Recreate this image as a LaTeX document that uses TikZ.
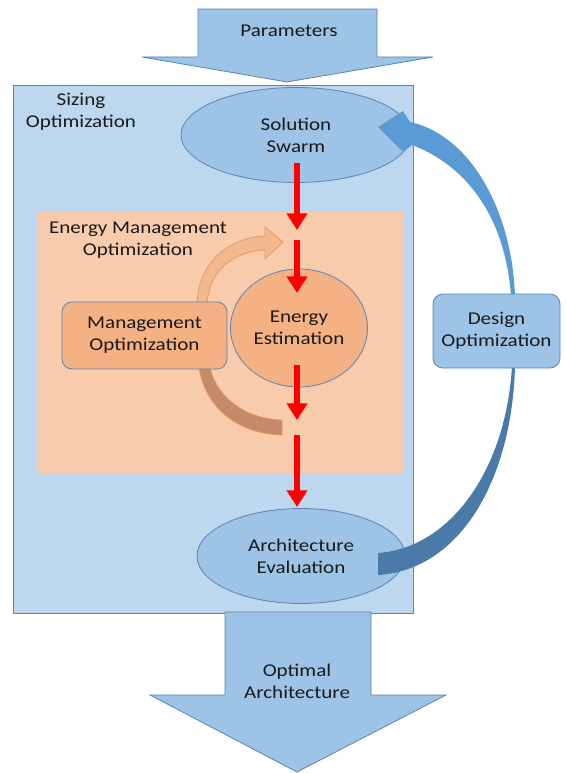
\documentclass[tikz,border=0pt]{standalone}
\usepackage{fontspec}
\setmainfont{Carlito}[FakeStretch=1.17]
\usetikzlibrary{arrows.meta,shapes.geometric}
\definecolor{sizebg}{HTML}{BDD7EE}
\definecolor{boxline}{HTML}{5B84B1}
\definecolor{bluefill}{HTML}{9DC3E6}
\definecolor{orangebg}{HTML}{F8CBAD}
\definecolor{orangenode}{HTML}{F4B183}
\definecolor{orangelight}{HTML}{F4B88E}
\definecolor{orangeline}{HTML}{E59A63}
\definecolor{orangedark}{HTML}{C48B66}
\definecolor{bluearrow}{HTML}{5B9BD5}
\definecolor{bluedark}{HTML}{4A7BA8}
\definecolor{txtcol}{HTML}{1A1A1A}
\tikzset{
  txt/.style={text=txtcol, align=center, inner sep=0pt},
  blockarrow/.style={fill=bluefill, draw=boxline, line width=0.6pt},
  ellnode/.style={ellipse, fill=bluefill, draw=boxline, line width=0.6pt, inner sep=0pt, text=txtcol, align=center},
  rnode/.style={rectangle, rounded corners=7.5pt, draw=boxline, line width=0.6pt, inner sep=0pt, text=txtcol, align=center},
  redarrow/.style={draw=red, line width=4.5pt, -{Triangle[width=15pt,length=12.5pt]}},
}
\begin{document}
\begin{tikzpicture}[x=0.75pt,y=-0.75pt, font=\fontsize{13.5}{16.5}\selectfont]
\useasboundingbox (0,0) rectangle (565,773);

% Parameters block arrow
\draw[blockarrow] (198,9) -- (377,9) -- (377,57) -- (433,57) -- (287,82) -- (142,57) -- (198,57) -- cycle;
\node[txt] (param) at (289,31) {Parameters};

% Sizing optimization box
\draw[fill=sizebg, draw=boxline, line width=0.6pt] (13,85) rectangle (413,613);
\node[txt] (sizing) at (81,112) {Sizing\\Optimization};

% Solution swarm
\node[ellnode, minimum width=172.5pt, minimum height=71.25pt] (swarm) at (296,135) {Solution\\Swarm};

% Energy management region
\fill[orangebg] (38,212) rectangle (403,473);
\node[txt] (emo) at (138,240) {Energy Management\\Optimization};

% curved orange arrows
\path[fill=orangelight, draw=orangeline, line width=0.6pt]
  (197,303) .. controls (199,262) and (228,238) .. (265,236) -- (265,227) -- (283,242) -- (265,259) -- (265,250)
  .. controls (236,251) and (210,268) .. (207,303) -- cycle;
\path[fill=orangedark, draw=orangeline, line width=0.6pt]
  (199,368) .. controls (206,410) and (240,434) .. (282,435) -- (282,420)
  .. controls (248,419) and (218,400) .. (210,368) -- cycle;

% Management optimization
\node[rnode, fill=orangenode, minimum width=123.75pt, minimum height=50.25pt] (mgmt) at (144.5,335.5) {Management\\Optimization};

% Energy estimation
\node[ellnode, fill=orangenode, minimum width=102.75pt, minimum height=88.5pt] (energy) at (299,328) {Energy\\Estimation};

% Architecture evaluation
\node[ellnode, minimum width=156pt, minimum height=71.25pt] (arch) at (301,556) {Architecture\\Evaluation};

% Optimal architecture block arrow
\draw[blockarrow] (225,612) -- (371,612) -- (371,695) -- (446,695) -- (297,772) -- (150,695) -- (225,695) -- cycle;
\node[txt] (optimal) at (297,681) {Optimal\\Architecture};

% big blue curved arrow
\path[fill=bluearrow]
  (515,296) .. controls (512,210) and (470,135) .. (410,122) -- (403,111) -- (378,127) -- (403,152) -- (412,145)
  .. controls (465,165) and (505,215) .. (511,296) -- cycle;
\path[fill=bluedark]
  (515,366) .. controls (512,480) and (460,570) .. (378,575) -- (378,553)
  .. controls (450,548) and (506,470) .. (512,366) -- cycle;

% Design optimization
\node[rnode, fill=bluefill, minimum width=95.25pt, minimum height=55.5pt] (design) at (496.5,331) {Design\\Optimization};

% red arrows
\coordinate (r1a) at (297,163);
\coordinate (r1b) at (297,230);
\coordinate (r2a) at (297,240);
\coordinate (r2b) at (297,293);
\coordinate (r3a) at (297,365);
\coordinate (r3b) at (297,420);
\coordinate (r4a) at (297,435);
\coordinate (r4b) at (297,507);
\draw[redarrow] (r1a) -- (r1b);
\draw[redarrow] (r2a) -- (r2b);
\draw[redarrow] (r3a) -- (r3b);
\draw[redarrow] (r4a) -- (r4b);
\end{tikzpicture}
\end{document}
